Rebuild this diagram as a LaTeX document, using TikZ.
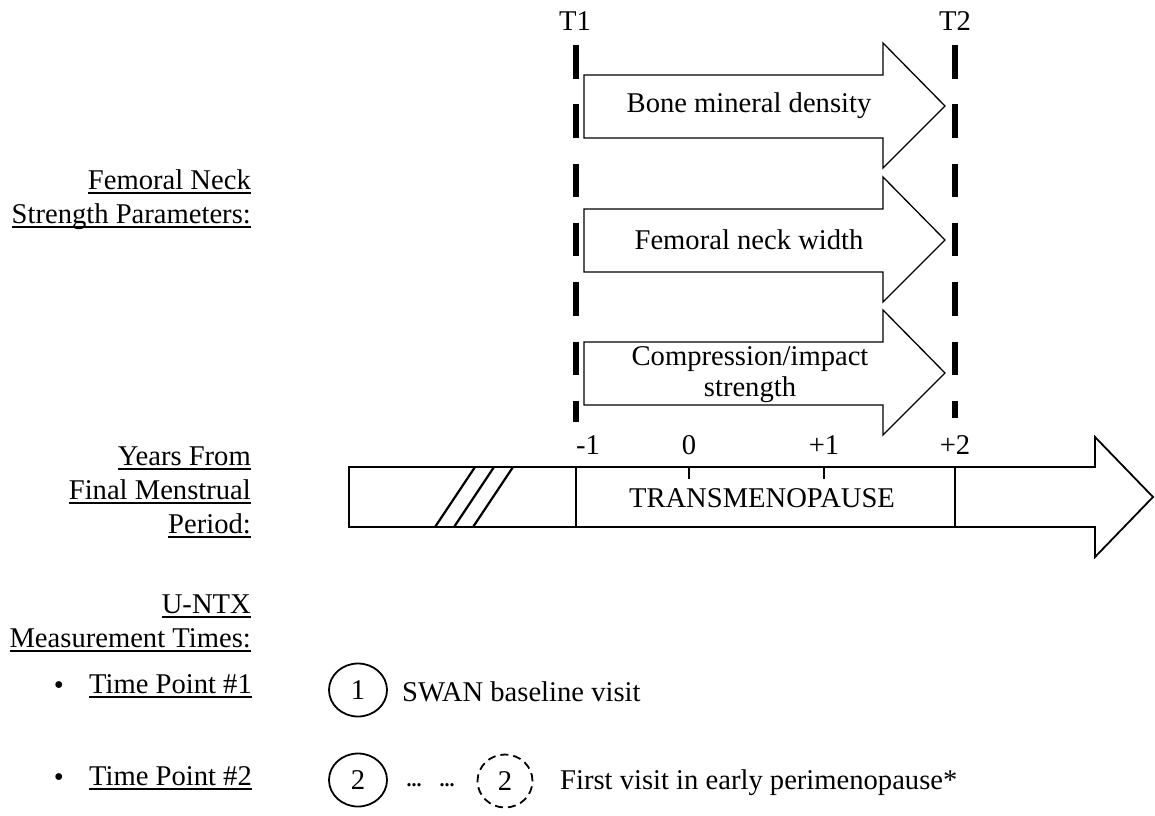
\documentclass[tikz,border=0pt]{standalone}
\usepackage{fontspec}
\setmainfont{Liberation Serif}
\usetikzlibrary{shapes.geometric}
\newcommand{\undl}[1]{\setbox0\hbox{#1}\rlap{\rule[-4.5pt]{\wd0}{1.5pt}}\box0}
\begin{document}
\begin{tikzpicture}[x=1pt,y=-1pt,
  txt/.style={font=\fontsize{28.6}{31}\selectfont, inner sep=0pt},
  lbl/.style={txt, anchor=base east},
  barrow/.style={draw=black, line width=1.3pt, fill=white, line join=miter},
  tlarrow/.style={draw=black, line width=1.8pt, fill=white, line join=miter},
  tline/.style={line width=6pt, dash pattern=on 33.5pt off 25.8pt},
  divider/.style={line width=2.8pt},
  hatch/.style={line width=2.2pt},
  visit/.style={draw, ellipse, line width=1.8pt, minimum width=58pt, minimum height=53pt, inner sep=0pt, font=\fontsize{28.6}{31}\selectfont},
  dvisit/.style={visit, dash pattern=on 8pt off 5pt, minimum width=55pt},
  dotsty/.style={inner sep=0pt, font=\fontsize{20}{22}\bfseries}
]
\path[use as bounding box, fill=white] (0,0) rectangle (1155,815);

% T1 / T2 lines
\coordinate (t1top) at (576,45);
\coordinate (t1bot) at (576,422);
\coordinate (t2top) at (955,45);
\coordinate (t2bot) at (955,418);
\draw[tline] (t1top) -- (t1bot);
\draw[tline] (t2top) -- (t2bot);
\node[txt] (T1) at (575,21) {T1};
\node[txt] (T2) at (955,21) {T2};

% block arrows
\foreach \c in {106,240,373}{
  \draw[barrow] (584,{\c-31}) -- (883,{\c-31}) -- (883,{\c-63}) -- (945,\c)
     -- (883,{\c+62}) -- (883,{\c+32}) -- (584,{\c+32}) -- cycle;
}
\node[txt] (bmd) at (749,106) {Bone mineral density};
\node[txt] (fnw) at (749,240) {Femoral neck width};
\node[txt, align=center] (cis) at (750,375) {Compression/impact\\strength};

% timeline
\draw[tlarrow] (349,467) -- (1095,467) -- (1095,437) -- (1153,497) -- (1095,557) -- (1095,527) -- (349,527) -- cycle;
\coordinate (dm1t) at (576,467); \coordinate (dm1b) at (576,527);
\coordinate (dp2t) at (955,467); \coordinate (dp2b) at (955,527);
\draw[divider] (dm1t) -- (dm1b);
\draw[divider] (dp2t) -- (dp2b);
\coordinate (k0t) at (689,467); \coordinate (k0b) at (689,479);
\coordinate (k1t) at (824,467); \coordinate (k1b) at (824,479);
\draw[divider] (k0t) -- (k0b);
\draw[divider] (k1t) -- (k1b);
\draw[hatch] (435,527) -- (475,467);
\draw[hatch] (454,527) -- (494,467);
\draw[hatch] (473,527) -- (513,467);
\node[txt] (ym1) at (588,445) {-1};
\node[txt] (y0) at (689,445) {0};
\node[txt] (yp1) at (824,445) {+1};
\node[txt] (yp2) at (955,445) {+2};
\node[txt] (trans) at (762,498) {TRANSMENOPAUSE};

% left labels
\node[lbl] (l1) at (251,189) {\undl{Femoral Neck}};
\node[lbl] (l2) at (251,223) {\undl{Strength Parameters:}};
\node[lbl] (l3) at (251,465) {\undl{Years From}};
\node[lbl] (l4) at (251,499) {\undl{Final Menstrual}};
\node[lbl] (l5) at (251,533) {\undl{Period:}};
\node[lbl] (l6) at (251,613) {\undl{U-NTX}};
\node[lbl] (l7) at (251,647) {\undl{Measurement Times:}};
\node[lbl] (l8) at (252,693) {\undl{Time Point \#1}};
\node[lbl] (l9) at (252,785) {\undl{Time Point \#2}};
\node[txt] (b1) at (59,688) {•};
\node[txt] (b2) at (59,780) {•};

% visits
\node[visit] (v1) at (358,690) {1};
\node[txt, anchor=west] (v1t) at (402,692) {SWAN baseline visit};
\node[visit] (v2) at (358,780) {2};
\node[dotsty, anchor=base] (dots1) at (414,786) {...};
\node[dotsty, anchor=base] (dots2) at (447,786) {...};
\node[dvisit] (v3) at (505,781) {2};
\node[txt, anchor=west] (v3t) at (560,783) {First visit in early perimenopause*};
\end{tikzpicture}
\end{document}
